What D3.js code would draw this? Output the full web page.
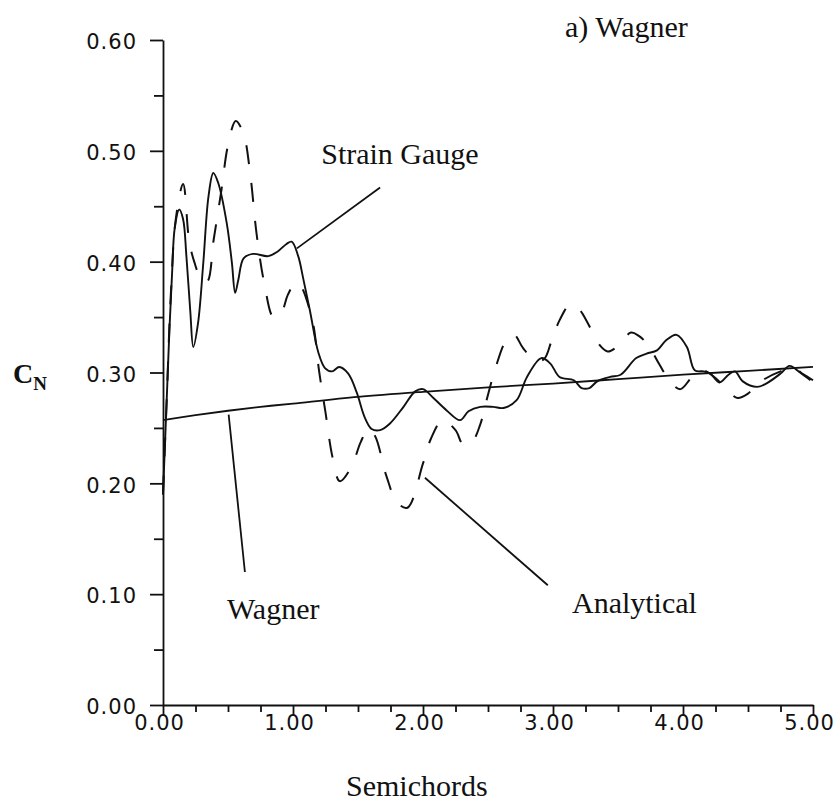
<!DOCTYPE html>
<html>
<head>
<meta charset="utf-8">
<script src="https://cdn.jsdelivr.net/npm/d3@7"></script>
<style>
  html, body { margin: 0; padding: 0; background: #fff; }
  svg { display: block; }
</style>
</head>
<body>
<svg id="chart" width="837" height="803"></svg>
<script>
// ---------------- data ----------------
const xTickValues = [0, 1, 2, 3, 4, 5];
const xMinorTicks = [0.25, 0.5, 0.75, 1.25, 1.5, 1.75, 2.25, 2.5, 2.75, 3.25, 3.5, 3.75, 4.25, 4.5, 4.75];
const yTickValues = [0, 0.1, 0.2, 0.3, 0.4, 0.5, 0.6];
const yMinorTicks = [0.05, 0.15, 0.25, 0.35, 0.45, 0.55];

// Strain gauge (solid)
const strainGauge = [
  [0, 0.19], [0.01, 0.22], [0.03, 0.28], [0.05, 0.34], [0.07, 0.39], [0.09, 0.43],
  [0.125, 0.447], [0.155, 0.438], [0.18, 0.405], [0.21, 0.355], [0.233, 0.323],
  [0.27, 0.345], [0.31, 0.399], [0.35, 0.459], [0.387, 0.480], [0.425, 0.471],
  [0.49, 0.435], [0.53, 0.399], [0.555, 0.372], [0.58, 0.384], [0.62, 0.403],
  [0.69, 0.407], [0.81, 0.405], [0.88, 0.409], [0.95, 0.416], [0.99, 0.418],
  [1.04, 0.405], [1.08, 0.384], [1.13, 0.356], [1.195, 0.318], [1.246, 0.304],
  [1.30, 0.301], [1.356, 0.305], [1.425, 0.299], [1.49, 0.282], [1.55, 0.26],
  [1.605, 0.249], [1.67, 0.248], [1.746, 0.254], [1.85, 0.269], [1.94, 0.283],
  [2.0, 0.285], [2.08, 0.277], [2.18, 0.266], [2.285, 0.257], [2.35, 0.265],
  [2.44, 0.269], [2.54, 0.269], [2.62, 0.268], [2.72, 0.275], [2.80, 0.296],
  [2.91, 0.313], [2.98, 0.308], [3.05, 0.296], [3.16, 0.293], [3.22, 0.286],
  [3.28, 0.286], [3.34, 0.292], [3.44, 0.296], [3.52, 0.298], [3.64, 0.313],
  [3.72, 0.317], [3.80, 0.320], [3.87, 0.329], [3.95, 0.334], [4.03, 0.323],
  [4.09, 0.302], [4.16, 0.301], [4.21, 0.299], [4.28, 0.291], [4.35, 0.298],
  [4.40, 0.301], [4.46, 0.292], [4.57, 0.287], [4.64, 0.290], [4.75, 0.299],
  [4.82, 0.306], [4.90, 0.300], [4.98, 0.293]
];

// Analytical (dashed)
const analytical = [
  [0, 0.19], [0.03, 0.28], [0.06, 0.37], [0.10, 0.44], [0.155, 0.47], [0.20, 0.42],
  [0.24, 0.40], [0.30, 0.383], [0.34, 0.382], [0.39, 0.42], [0.45, 0.465],
  [0.50, 0.505], [0.56, 0.527], [0.62, 0.515], [0.67, 0.48], [0.72, 0.425],
  [0.78, 0.38], [0.85, 0.35], [0.91, 0.354], [0.96, 0.37], [1.02, 0.381],
  [1.06, 0.378], [1.13, 0.356], [1.16, 0.341], [1.20, 0.302], [1.25, 0.264],
  [1.305, 0.223], [1.36, 0.202], [1.45, 0.215], [1.52, 0.237], [1.58, 0.249],
  [1.63, 0.243], [1.72, 0.206], [1.80, 0.183], [1.88, 0.178], [2.0, 0.218], [2.06, 0.24],
  [2.15, 0.257], [2.25, 0.248], [2.31, 0.235], [2.38, 0.238], [2.44, 0.253],
  [2.50, 0.28], [2.56, 0.305], [2.64, 0.329], [2.70, 0.334], [2.77, 0.322],
  [2.86, 0.311], [2.93, 0.312], [2.99, 0.329], [3.05, 0.347], [3.13, 0.361],
  [3.20, 0.357], [3.27, 0.344], [3.35, 0.326], [3.42, 0.319], [3.49, 0.323],
  [3.60, 0.336], [3.66, 0.333], [3.73, 0.325], [3.82, 0.307], [3.90, 0.292],
  [3.98, 0.285], [4.07, 0.296], [4.15, 0.302], [4.25, 0.295], [4.34, 0.284],
  [4.42, 0.277], [4.50, 0.281], [4.60, 0.292], [4.75, 0.301], [4.85, 0.304],
  [4.93, 0.298], [5.0, 0.293]
];

// Wagner (smooth)
const wagner = [
  [0, 0.257], [0.25, 0.2615], [0.5, 0.2655], [0.75, 0.269], [1.0, 0.272],
  [1.5, 0.278], [2.0, 0.2826], [2.5, 0.2866], [3.0, 0.290], [3.5, 0.294],
  [4.0, 0.298], [4.5, 0.3015], [5.0, 0.305]
];

// annotations
const annotationLabels = ["Strain Gauge", "Wagner", "Analytical"];
const annotationText = [[1.217, 0.488], [0.492, 0.078], [3.146, 0.083]];
const annotationLeaders = [
  [[1.03, 0.412], [1.67, 0.467]],
  [[0.505, 0.262], [0.63, 0.12]],
  [[2.015, 0.205], [2.96, 0.108]]
];

// ---------------- chart ----------------
const svg = d3.select("#chart");
const x = d3.scaleLinear().domain([0, 5]).range([163, 813]);
const y = d3.scaleLinear().domain([0, 0.6]).range([705, 40]);
const ink = "#111";
const fmt = d3.format(".2f");

// y axis
const yAxisG = svg.append("g").attr("transform", `translate(${x(0)},0)`);
yAxisG.call(d3.axisLeft(y).tickValues(yTickValues).tickSize(13).tickSizeOuter(0).tickFormat(fmt).tickPadding(13));
svg.append("g").attr("transform", `translate(${x(0)},0)`)
  .call(d3.axisLeft(y).tickValues(yMinorTicks).tickSize(9).tickSizeOuter(0).tickFormat(""))
  .select(".domain").remove();

// x axis
const xAxisG = svg.append("g").attr("transform", `translate(0,${y(0)})`);
xAxisG.call(d3.axisBottom(x).tickValues(xTickValues).tickSize(11).tickSizeOuter(0).tickFormat(fmt));
svg.append("g").attr("transform", `translate(0,${y(0)})`)
  .call(d3.axisBottom(x).tickValues(xMinorTicks).tickSize(7).tickSizeOuter(0).tickFormat(""))
  .select(".domain").remove();

svg.selectAll(".domain, .tick line").attr("stroke", ink).attr("stroke-width", 1.8);
svg.selectAll(".tick text")
  .attr("fill", ink)
  .style("font-family", "'DejaVu Sans', sans-serif")
  .style("font-size", "21px")
  .style("letter-spacing", "1px");
yAxisG.selectAll(".tick text").attr("dy", "0.42em");
xAxisG.selectAll(".tick text").attr("y", 25).attr("dy", 0).attr("x", -4);

// curves
const line = d3.line().x(d => x(d[0])).y(d => y(d[1])).curve(d3.curveCatmullRom.alpha(0.5));
svg.append("path").datum(wagner).attr("d", line)
  .attr("fill", "none").attr("stroke", ink).attr("stroke-width", 1.8);
svg.append("path").datum(analytical).attr("d", line)
  .attr("fill", "none").attr("stroke", ink).attr("stroke-width", 2)
  .attr("stroke-dasharray", "19,19");
svg.append("path").datum(strainGauge).attr("d", line)
  .attr("fill", "none").attr("stroke", ink).attr("stroke-width", 1.9);

// leaders
annotationLeaders.forEach(seg => {
  svg.append("line")
    .attr("x1", x(seg[0][0])).attr("y1", y(seg[0][1]))
    .attr("x2", x(seg[1][0])).attr("y2", y(seg[1][1]))
    .attr("stroke", ink).attr("stroke-width", 1.8);
});

const serif = "'Liberation Serif', 'Times New Roman', serif";
annotationLabels.forEach((t, i) => {
  svg.append("text")
    .attr("x", x(annotationText[i][0])).attr("y", y(annotationText[i][1]))
    .attr("fill", ink)
    .style("font-family", serif).style("font-size", "30px")
    .text(t);
});

// title
svg.append("text").attr("x", 565).attr("y", 37)
  .attr("fill", ink).style("font-family", serif).style("font-size", "30px")
  .text("a) Wagner");

// axis titles
svg.append("text").attr("x", 346).attr("y", 796)
  .attr("fill", ink).style("font-family", serif).style("font-size", "30px")
  .text("Semichords");

const cn = svg.append("text").attr("x", 13).attr("y", 383)
  .attr("fill", ink).style("font-family", serif).style("font-size", "28px").style("font-weight", "bold");
cn.append("tspan").text("C");
cn.append("tspan").attr("dy", 7).style("font-size", "19px").text("N");
</script>
</body>
</html>
